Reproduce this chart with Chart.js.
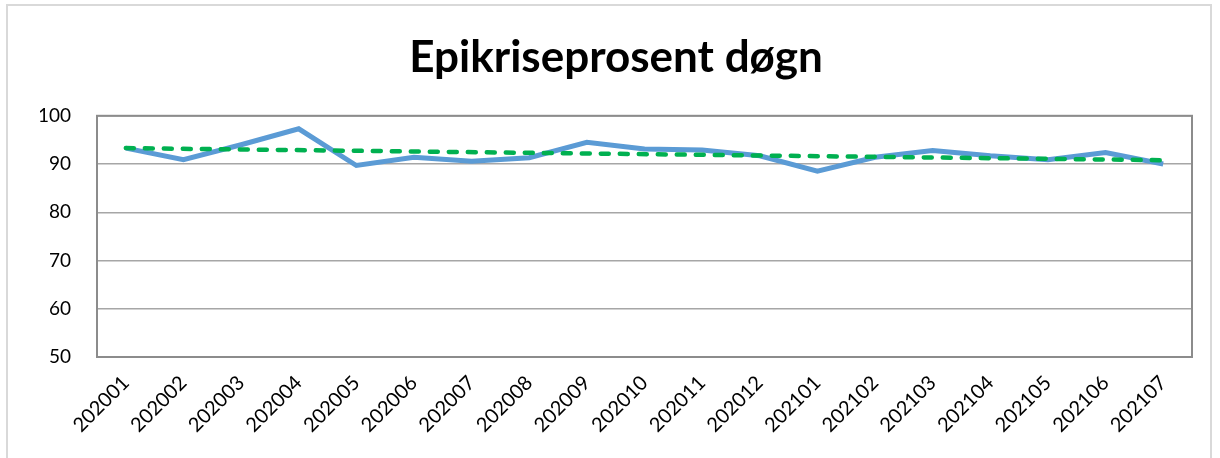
<!DOCTYPE html>
<html>
<head>
<meta charset="utf-8">
<script src="https://cdn.jsdelivr.net/npm/chart.js@4"></script>
<style>
  body { margin: 0; background: #fff; }
  #wrap { position: relative; width: 1220px; height: 458px; }
  #frame { position: absolute; left: 6px; top: 4px; width: 1206px; height: 460px; border: 2px solid #d9d9d9; box-sizing: border-box; pointer-events: none; }
</style>
</head>
<body>
<div id="wrap">
  <canvas id="epikrise" width="1220" height="458"></canvas>
  <div id="frame"></div>
</div>
<script>
var months = ["202001", "202002", "202003", "202004", "202005", "202006", "202007", "202008", "202009", "202010",
              "202011", "202012", "202101", "202102", "202103", "202104", "202105", "202106", "202107"];
var epikrise = [93.3, 90.9, 94.0, 97.3, 89.7, 91.4, 90.6, 91.3, 94.5, 93.1,
                92.9, 91.7, 88.5, 91.4, 92.8, 91.7, 90.9, 92.4, 90.0];
// trendline: start and end value
var trendStart = 93.3;
var trendEnd = 90.8;

var plotBorder = {
  id: 'plotBorder',
  afterDraw: function(chart) {
    var a = chart.chartArea, c = chart.ctx;
    c.save();
    c.strokeStyle = '#8c8c8c';
    c.lineWidth = 2;
    c.strokeRect(a.left, a.top, a.right - a.left, a.bottom - a.top);
    c.restore();
  }
};

var ctx = document.getElementById("epikrise").getContext('2d');
var myChart = new Chart(ctx, {
    type: 'line',
    data: {
      labels: months,
      datasets: [{
          label: 'Epikriseprosent',
          data: epikrise,
          borderColor: '#5b9bd5',
          borderWidth: 5,
          pointRadius: 0,
          tension: 0,
          order: 2
      }, {
          label: 'Trend',
          data: [{x: months[0], y: trendStart}, {x: months[months.length - 1], y: trendEnd}],
          borderColor: '#00b050',
          borderWidth: 4.5,
          borderDash: [8, 11],
          borderCapStyle: 'round',
          pointRadius: 0,
          order: 1
      }]
    },
    options: {
      responsive: false,
      animation: false,
      layout: { padding: { left: 40, right: 28, top: 0, bottom: 0 } },
      plugins: {
        legend: { display: false },
        tooltip: { enabled: false },
        title: {
          display: true,
          text: 'Epikriseprosent døgn',
          color: '#000',
          font: { family: 'Lato', size: 44, weight: 'bold', lineHeight: 1.2 },
          padding: { top: 31, bottom: 32 }
        }
      },
      scales: {
        x: {
          offset: true,
          grid: { display: false, drawTicks: false },
          border: { display: false },
          ticks: {
            color: '#000',
            font: { family: 'Lato', size: 20 },
            minRotation: 45,
            maxRotation: 45,
            padding: 14,
            autoSkip: false
          },
          afterFit: function(scale) { scale.height = 101; }
        },
        y: {
          min: 50,
          max: 100,
          ticks: {
            stepSize: 10,
            color: '#000',
            font: { family: 'Lato', size: 19 },
            padding: 26
          },
          grid: { color: '#a6a6a6', lineWidth: 1.5, drawTicks: false },
          border: { display: false },
          afterFit: function(scale) { scale.width = 57; }
        }
      }
    },
    plugins: [plotBorder]
});
</script>
</body>
</html>
